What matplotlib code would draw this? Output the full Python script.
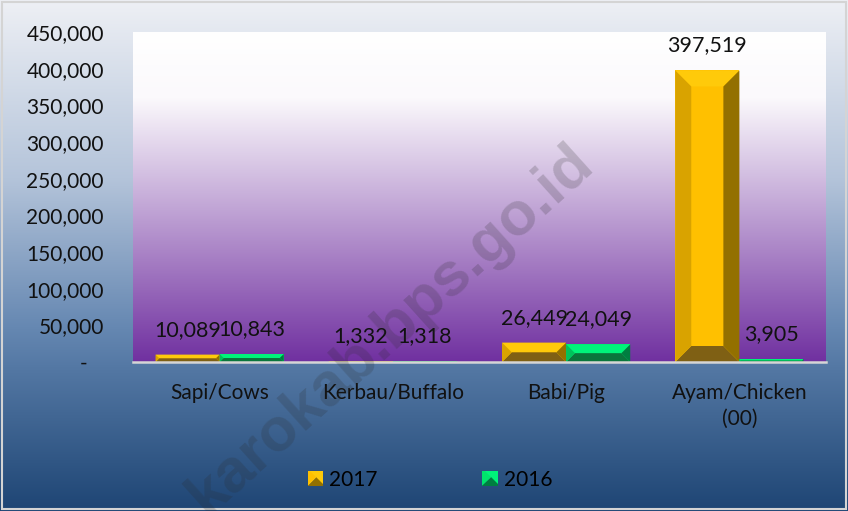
import numpy as np
import matplotlib.pyplot as plt
from matplotlib.colors import to_rgb
from matplotlib.patches import Polygon, Rectangle
from matplotlib.legend_handler import HandlerBase
from matplotlib.ticker import FuncFormatter

categories = ['Sapi/Cows', 'Kerbau/Buffalo', 'Babi/Pig', 'Ayam/Chicken\n(00)']
years = ['2017', '2016']
values_2017 = [10089, 1332, 26449, 397519]
values_2016 = [10843, 1318, 24049, 3905]

shades = {
    '2017': dict(face='#FFC000', top='#FFCA0A', left='#D9A300',
                 right='#937000', bottom='#7F6014'),
    '2016': dict(face='#00E46C', top='#00F47A', left='#00C25C',
                 right='#007E40', bottom='#0A763C'),
}

plt.rcParams['font.family'] = ['Lato', 'DejaVu Sans']


def gradient(stops, n=512):
    pos = [s[0] for s in stops]
    cols = np.array([to_rgb(s[1]) for s in stops])
    t = np.linspace(0, 1, n)
    return np.stack([np.interp(t, pos, cols[:, i]) for i in range(3)], axis=-1)[:, None, :]


def bevel_bar(ax, rect, sh, size=16):
    (x0, y0), (x1, y1) = ax.transData.transform(
        [(rect.get_x(), 0), (rect.get_x() + rect.get_width(), rect.get_height())])
    e = min(size, (y1 - y0) / 2, (x1 - x0) / 2)
    polys = {
        'top': [(x0, y1), (x1, y1), (x1 - e, y1 - e), (x0 + e, y1 - e)],
        'bottom': [(x0, y0), (x1, y0), (x1 - e, y0 + e), (x0 + e, y0 + e)],
        'left': [(x0, y0), (x0, y1), (x0 + e, y1 - e), (x0 + e, y0 + e)],
        'right': [(x1, y0), (x1, y1), (x1 - e, y1 - e), (x1 - e, y0 + e)],
    }
    inv = ax.transData.inverted()
    for k, p in polys.items():
        ax.add_patch(Polygon(inv.transform(p), closed=True, fc=sh[k], ec='none', zorder=3))


class BevelHandler(HandlerBase):
    def __init__(self, sh):
        super().__init__()
        self.sh = sh

    def create_artists(self, legend, orig_handle, xdescent, ydescent, width, height, fontsize, trans):
        s = min(width, height)
        x0, y0 = -xdescent + (width - s) / 2, -ydescent + (height - s) / 2
        a = Polygon([(x0, y0), (x0, y0 + s), (x0 + s, y0 + s)], fc=self.sh['face'], ec='none', transform=trans)
        b = Polygon([(x0, y0), (x0 + s, y0), (x0 + s, y0 + s)], fc=self.sh['right'], ec='none', transform=trans)
        c = Polygon([(x0 + s * 0.15, y0 + s), (x0 + s, y0 + s), (x0 + s, y0 + s * 0.15)], fc=self.sh['top'], ec='none', transform=trans)
        return [a, b, c]


fig = plt.figure(figsize=(8.48, 5.11), dpi=100)

# figure background
bg = fig.add_axes([0, 0, 1, 1], zorder=-10)
bg.imshow(gradient([(0, '#eef0f5'), (0.35, '#b4c4da'), (0.64, '#6688b2'),
                    (0.72, '#5478a4'), (1, '#1e4574')]),
          aspect='auto', extent=(0, 1, 0, 1))
bg.axis('off')
fig.add_artist(Rectangle((0.002, 0.003), 0.996, 0.994, transform=fig.transFigure,
                         fill=False, ec='#d4d4d4', lw=1.5))

ax = fig.add_axes([133 / 848, 1 - 362 / 511, (826 - 133) / 848, (362 - 32) / 511])
ax.set_xlim(-0.5, 3.5)
ax.set_ylim(0, 450000)
ax.imshow(gradient([(0, '#ffffff'), (0.2, '#fbf9fc'), (1, '#7030a0')]),
          aspect='auto', extent=(-0.5, 3.5, 0, 450000), zorder=0)
ax.patch.set_alpha(0)

x = np.arange(len(categories))
w = 0.37
for off, year, vals in [(-w / 2, '2017', values_2017), (w / 2, '2016', values_2016)]:
    bars = ax.bar(x + off, vals, w, color=shades[year]['face'], zorder=2)
    for rect, v in zip(bars, vals):
        bevel_bar(ax, rect, shades[year])
        ax.annotate(f'{v:,}', (rect.get_x() + rect.get_width() / 2, v),
                    xytext=(0, 25), textcoords='offset pixels',
                    ha='center', va='center', fontsize=15.5, color='#111111', zorder=5)

ax.set_yticks(np.arange(0, 450001, 50000))
ax.yaxis.set_major_formatter(FuncFormatter(lambda v, p: '-   ' if v == 0 else f'{v:,.0f}'))
ax.set_xticks(x)
ax.set_xticklabels(categories, linespacing=1.35)
ax.tick_params(axis='both', length=0, labelsize=15, colors='#111111')
ax.tick_params(axis='y', pad=21)
ax.tick_params(axis='x', pad=15)
for s in ['top', 'left', 'right']:
    ax.spines[s].set_visible(False)
ax.spines['bottom'].set_color('#d6d6d6')
ax.spines['bottom'].set_linewidth(1.8)
ax.spines['bottom'].set_zorder(4)

handles = [Rectangle((0, 0), 1, 1), Rectangle((0, 0), 1, 1)]
fig.legend(handles, years, loc='center', bbox_to_anchor=(430 / 848, 1 - 480 / 511),
           ncol=2, frameon=False, fontsize=15, handlelength=0.75, handleheight=0.75,
           handletextpad=0.3, columnspacing=5.0,
           handler_map={handles[0]: BevelHandler(shades['2017']),
                        handles[1]: BevelHandler(shades['2016'])})

fig.text(0.461, 0.354, 'karokab.bps.go.id', rotation=42, ha='center', va='center',
         fontsize=44, fontweight='bold', family='Liberation Sans', color='#2a2a2a',
         alpha=0.2, zorder=10)

fig.savefig('out.png', dpi=100)
